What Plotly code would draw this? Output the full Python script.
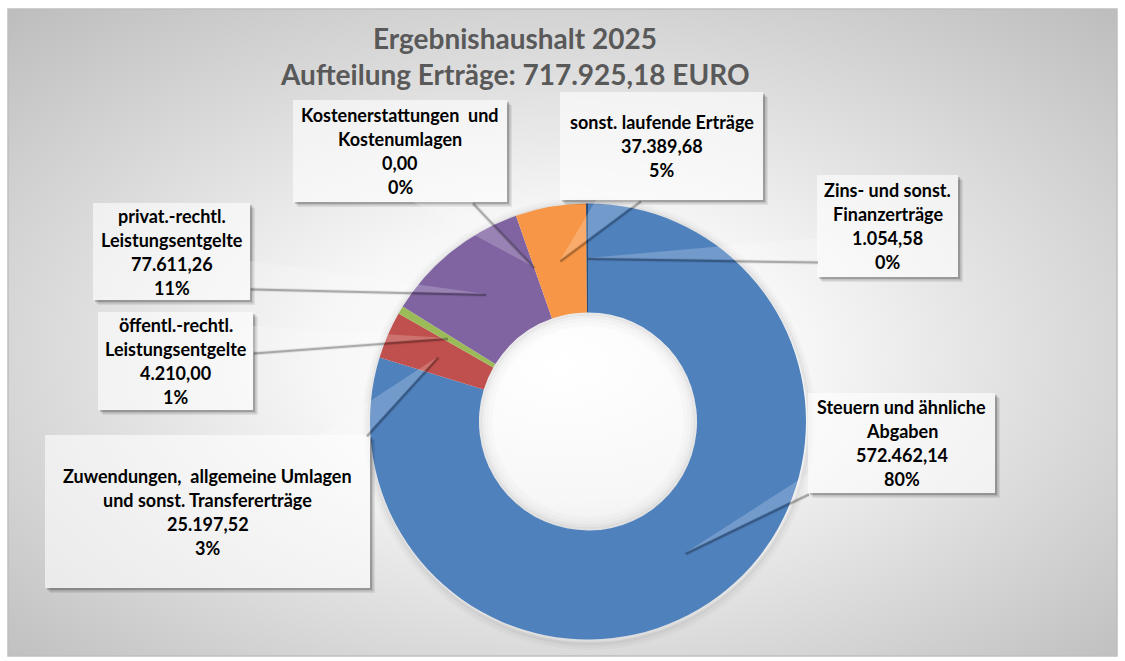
import math
import base64
import plotly.graph_objects as go

W, H = 1125, 661

# ---------------- data ----------------
categories = [
    "Steuern und ähnliche Abgaben",
    "Zuwendungen, allgemeine Umlagen und sonst. Transfererträge",
    "öffentl.-rechtl. Leistungsentgelte",
    "privat.-rechtl. Leistungsentgelte",
    "Kostenerstattungen und Kostenumlagen",
    "sonst. laufende Erträge",
    "Zins- und sonst. Finanzerträge",
]
values = [572462.14, 25197.52, 4210.00, 77611.26, 0.00, 37389.68, 1054.58]
value_labels = ["572.462,14", "25.197,52", "4.210,00", "77.611,26", "0,00", "37.389,68", "1.054,58"]
pct_labels = ["80%", "3%", "1%", "11%", "0%", "5%", "0%"]
label_lines = [
    ["Steuern und ähnliche", "Abgaben"],
    ["Zuwendungen,  allgemeine Umlagen", "und sonst. Transfererträge"],
    ["öffentl.-rechtl.", "Leistungsentgelte"],
    ["privat.-rechtl.", "Leistungsentgelte"],
    ["Kostenerstattungen  und", "Kostenumlagen"],
    ["sonst. laufende Erträge"],
    ["Zins- und sonst.", "Finanzerträge"],
]
title_lines = ["Ergebnishaushalt 2025", "Aufteilung Erträge: 717.925,18 EURO"]

# ---------------- styles / layout ----------------
colors = ["#4F81BD", "#C0504D", "#9BBB59", "#8064A2", "#4BACC6", "#F79646", "#2C4D75"]
FONT = "Lato"

CX, CY, R = 588, 421.5, 218     # donut centre / radius in px
HOLE = 0.5

# label boxes (x0, y0, x1, y1) in px and wedge base points
boxes = [
    (808, 393, 995, 493),
    (45, 435, 370, 588),
    (98, 312, 253, 410),
    (93, 203, 250, 300),
    (293, 100, 507, 202),
    (560, 92, 763, 200),
    (817, 175, 958, 277),
]
wedge_base = [
    ((808, 474), (808, 493)),
    ((318, 435), (366, 435)),
    ((253, 326), (253, 352)),
    ((250, 261), (250, 288)),
    ((413, 202), (472, 202)),
    ((596, 200), (640, 200)),
    ((817, 238), (817, 261)),
]
LINE_STEP = 24


def px(x):
    return x / W


def py(y):
    return 1 - y / H


# ---------------- background gradient (svg) ----------------
FX0, FY0, FX1, FY1 = 8, 9, 1117, 656
fw, fh = FX1 - FX0, FY1 - FY0
svg = f'''<svg xmlns="http://www.w3.org/2000/svg" width="{fw}" height="{fh}" viewBox="0 0 {fw} {fh}">
<defs><radialGradient id="g" cx="0.5" cy="0.52" r="0.72" fx="0.5" fy="0.55">
<stop offset="0" stop-color="#ffffff"/>
<stop offset="0.3" stop-color="#f7f7f7"/>
<stop offset="1" stop-color="#bdbdbd"/>
</radialGradient></defs>
<rect x="0" y="0" width="{fw}" height="{fh}" fill="url(#g)"/>
</svg>'''
svg_uri = "data:image/svg+xml;base64," + base64.b64encode(svg.encode("utf-8")).decode("ascii")

fig = go.Figure()

fig.add_trace(go.Pie(
    labels=categories,
    values=values,
    sort=False,
    direction="clockwise",
    rotation=0,
    hole=HOLE,
    marker=dict(colors=colors, line=dict(width=0)),
    textinfo="none",
    hoverinfo="label+value+percent",
    showlegend=False,
    domain=dict(x=[px(CX - R), px(CX + R)], y=[py(CY + R), py(CY - R)]),
))

shapes = []
annotations = []

# frame
shapes.append(dict(type="rect", xref="paper", yref="paper",
                   x0=px(FX0), x1=px(FX1), y0=py(FY1), y1=py(FY0),
                   line=dict(color="#bfbfbf", width=1.5), fillcolor="rgba(0,0,0,0)", layer="above"))

# soft outer shadow of the donut (rings only)
for dr, w, a in [(2, 3, 0.07), (4.5, 3, 0.04), (7, 3, 0.02)]:
    rr = R + dr
    shapes.append(dict(type="circle", xref="paper", yref="paper",
                       x0=px(CX - rr + 1), x1=px(CX + rr + 1),
                       y0=py(CY + rr + 2), y1=py(CY - rr + 2),
                       line=dict(width=w, color=f"rgba(0,0,0,{a})"),
                       fillcolor="rgba(0,0,0,0)", layer="below"))

# inner shadow of the hole
r_in = R * HOLE
for dr, w, a in [(1.5, 3, 0.08), (4, 3, 0.05), (7, 4, 0.03), (11, 5, 0.015)]:
    rr = r_in - dr
    shapes.append(dict(type="circle", xref="paper", yref="paper",
                       x0=px(CX - rr), x1=px(CX + rr), y0=py(CY + rr), y1=py(CY - rr),
                       line=dict(width=w, color=f"rgba(0,0,0,{a})"), fillcolor="rgba(0,0,0,0)", layer="above"))

# slice mid-angles -> callout tips
total = sum(values)
r_mid = (R + r_in) / 2
tips = []
cum = 0.0
for v in values:
    mid = (cum + v / 2) / total * 2 * math.pi
    tips.append((CX + r_mid * math.sin(mid), CY - r_mid * math.cos(mid)))
    cum += v


def path(points):
    return "M " + " L ".join(f"{px(x):.5f},{py(y):.5f}" for x, y in points) + " Z"


# boxes with shadows
for i, (x0, y0, x1, y1) in enumerate(boxes):
    for off, a in [(5, 0.07), (3.5, 0.12), (2, 0.18)]:
        pts = [(x1, y0 + off), (x1 + off, y0 + off), (x1 + off, y1 + off),
               (x0 + off, y1 + off), (x0 + off, y1), (x1, y1)]
        shapes.append(dict(type="path", xref="paper", yref="paper", path=path(pts),
                           line=dict(width=0), fillcolor=f"rgba(0,0,0,{a})", layer="above"))
    shapes.append(dict(type="rect", xref="paper", yref="paper",
                       x0=px(x0), x1=px(x1), y0=py(y1), y1=py(y0),
                       line=dict(width=0), fillcolor="rgba(255,255,255,0.6)", layer="above"))

# wedges (callout pointers)
for i, ((bx0, by0), (bx1, by1)) in enumerate(wedge_base):
    tx, ty = tips[i]
    shapes.append(dict(type="path", xref="paper", yref="paper",
                       path=path([(bx0, by0), (tx, ty), (bx1, by1)]),
                       line=dict(width=0), fillcolor="rgba(255,255,255,0.2)", layer="above"))
    # soft shadow along the lower edge
    for w, a in [(4, 0.08), (2, 0.25)]:
        shapes.append(dict(type="line", xref="paper", yref="paper",
                           x0=px(bx1 + 1), y0=py(by1 + 1.5), x1=px(tx + 0.5), y1=py(ty + 1),
                           line=dict(width=w, color=f"rgba(0,0,0,{a})"), layer="above"))

# label texts
for i, (x0, y0, x1, y1) in enumerate(boxes):
    lines = label_lines[i] + [value_labels[i], pct_labels[i]]
    n = len(lines)
    cxb, cyb = (x0 + x1) / 2, (y0 + y1) / 2
    for k, t in enumerate(lines):
        yy = cyb + (k - (n - 1) / 2) * LINE_STEP
        annotations.append(dict(xref="paper", yref="paper", x=px(cxb), y=py(yy),
                                text=f"<b>{t}</b>", showarrow=False,
                                xanchor="center", yanchor="middle",
                                font=dict(family=FONT, size=18, color="#000000")))

# title
for k, t in enumerate(title_lines):
    annotations.append(dict(xref="paper", yref="paper", x=px(515), y=py(38 + 36 * k),
                            text=f"<b>{t}</b>", showarrow=False,
                            xanchor="center", yanchor="middle",
                            font=dict(family=FONT, size=28, color="#595959")))

fig.update_layout(
    width=W, height=H,
    margin=dict(l=0, r=0, t=0, b=0),
    paper_bgcolor="#ffffff",
    plot_bgcolor="#ffffff",
    images=[dict(source=svg_uri, xref="paper", yref="paper",
                 x=px(FX0), y=py(FY0), sizex=fw / W, sizey=fh / H,
                 xanchor="left", yanchor="top", sizing="stretch", layer="below")],
    shapes=shapes,
    annotations=annotations,
)

fig.write_html("out.html",
               config={"displayModeBar": False},
               post_script="document.body.style.margin='0';document.body.style.overflow='hidden';")
